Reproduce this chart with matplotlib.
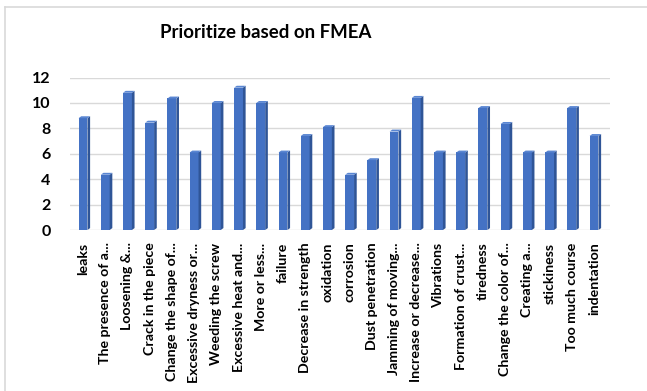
import numpy as np
import matplotlib
matplotlib.use("Agg")
import matplotlib.pyplot as plt
from matplotlib.lines import Line2D
from matplotlib.patches import Polygon

plt.rcParams['font.family'] = ['Lato', 'DejaVu Sans']

# failure modes (category axis), labels as truncated in the original
labels = ['leaks', 'The presence of a...', 'Loosening &...', 'Crack in the piece',
          'Change the shape of...', 'Excessive dryness or...', 'Weeding the screw',
          'Excessive heat and...', 'More or less...', 'failure', 'Decrease in strength',
          'oxidation', 'corrosion', 'Dust penetration', 'Jamming of moving...',
          'Increase or decrease...', 'Vibrations', 'Formation of crust...', 'tiredness',
          'Change the color of...', 'Creating a...', 'stickiness', 'Too much course',
          'indentation']
# priority values
values = [8.8, 4.35, 10.8, 8.45, 10.35, 6.1, 10.0, 11.2, 10.0, 6.1, 7.4, 8.1,
          4.35, 5.5, 7.75, 10.4, 6.1, 6.1, 9.6, 8.35, 6.1, 6.1, 9.6, 7.4]
yticks = [0, 2, 4, 6, 8, 10, 12]

front_col = '#4472C4'
side_col = '#2F5597'
top_col = '#5A86D2'

fig = plt.figure(figsize=(6.47, 3.91), dpi=100)
ax = fig.add_axes([70/647, 1 - 230/391, 540/647, 152.5/391])

x = np.arange(len(values))
w = 0.40      # front face width
sw = 0.12     # side face width
dz = 0.15     # depth offset in data units (vertical)

ax.bar(x, values, width=w, color=front_col, zorder=3)
for xi, v in zip(x, values):
    r = xi + w / 2
    l = xi - w / 2
    side = Polygon([(r, 0), (r + sw, dz), (r + sw, v + dz), (r, v)],
                   closed=True, facecolor=side_col, edgecolor='none', zorder=3)
    top = Polygon([(l, v), (r, v), (r + sw, v + dz), (l + sw, v + dz)],
                  closed=True, facecolor=top_col, edgecolor='none', zorder=4)
    ax.add_patch(side)
    ax.add_patch(top)

ax.set_xlim(-0.585, 23.72)
ax.set_ylim(0, 12)
ax.set_yticks(yticks)
ax.set_yticklabels([str(t) for t in yticks], fontsize=11.5, fontweight='bold')
ax.set_xticks(x)
ax.set_xticklabels(labels, rotation=90, fontsize=10.2, fontweight='bold',
                   ha='center', va='top')
ax.tick_params(axis='y', length=0, pad=14)
ax.tick_params(axis='x', length=0, pad=9)
ax.grid(axis='y', color='#D9D9D9', linewidth=1.0, zorder=0)
for s in ax.spines.values():
    s.set_visible(False)

fig.text(266/647, 1 - 33/391, 'Prioritize based on FMEA', fontsize=13.4,
         fontweight='bold', ha='center', va='center')

# chart area border (only top and left edges are visible in the crop)
fig.add_artist(Line2D([5/647, 5/647], [0, 1 - 7/391], color='#D9D9D9', linewidth=1.2))
fig.add_artist(Line2D([5/647, 1], [1 - 7/391, 1 - 7/391], color='#D9D9D9', linewidth=1.2))

fig.savefig('out.png', dpi=100)
